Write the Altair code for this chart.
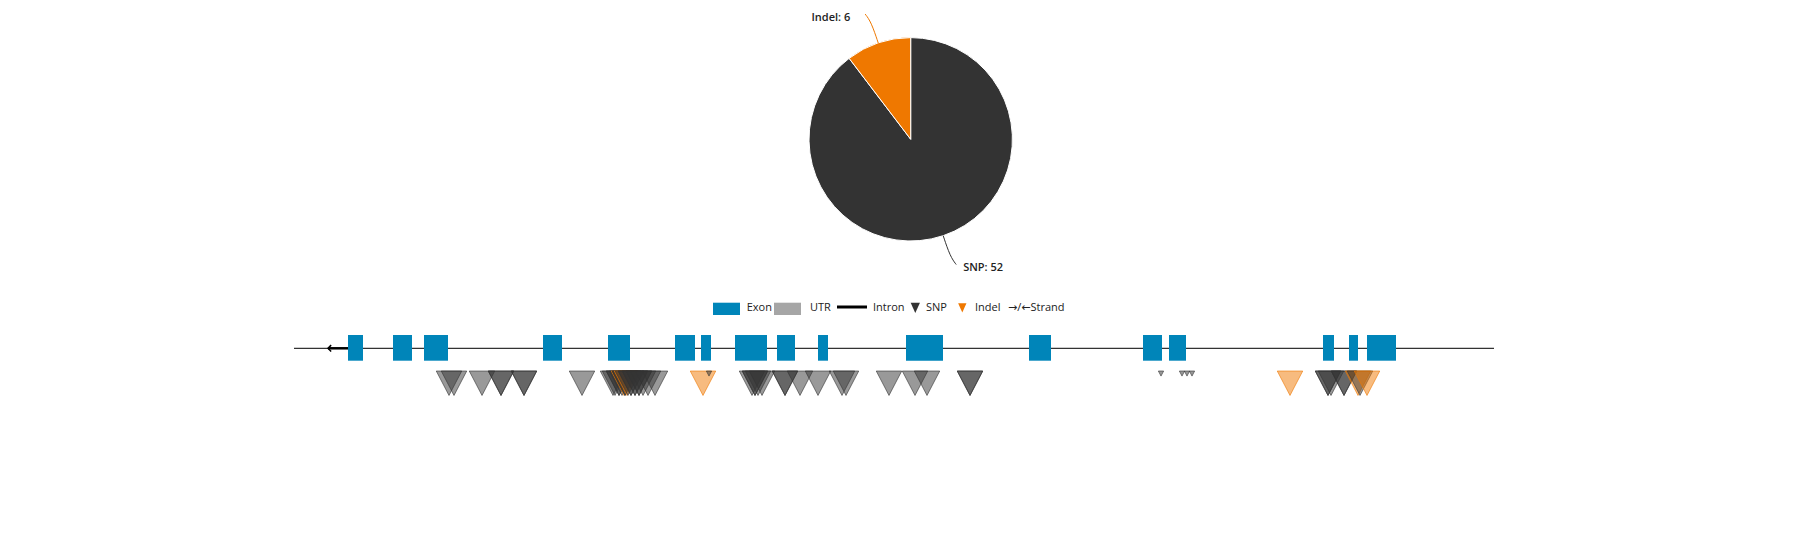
import math
import altair as alt
import pandas as pd

# ---------------- data ----------------
gene_start = 0
gene_end = 1200
strand_from = 54      # transcription start side (minus strand, arrow points left)
strand_to = 34

exon_start = [54, 99, 130, 249, 314, 381, 407, 441, 483, 524, 612, 735, 849, 875, 1029, 1055, 1073]
exon_end = [69, 118, 154, 268, 336, 401, 417, 473, 501, 534, 649, 757, 868, 892, 1040, 1064, 1102]

snp_large = [155, 160, 188, 207, 207, 230, 230, 288,
             319, 321, 325, 325, 328, 331, 331, 334, 337, 337, 341, 341, 345, 345, 349, 354, 361,
             458, 461, 461, 464, 468, 491, 491, 506, 524,
             548, 552, 595, 621, 633, 676, 676,
             1034, 1034, 1037, 1050, 1050, 1066]
snp_small = [415, 867, 888, 893, 898]
indel_pos = [330, 333, 409, 996, 1064, 1073]

pie_types = ["SNP", "Indel"]
pie_counts = [52, 6]

# ---------------- style ----------------
EXON_C = "#0085b9"
UTR_C = "#a6a6a6"
SNP_C = "#333333"
INDEL_C = "#ef7800"
FONT = "Open Sans, DejaVu Sans"

cscale = alt.Scale(domain=pie_types, range=[SNP_C, INDEL_C])
xscale = alt.Scale(domain=[gene_start, gene_end], range=[286, 1486])

# ---------------- tables ----------------
gene_df = pd.DataFrame({"start": [gene_start], "end": [gene_end],
                        "tss": [strand_from], "arrow": [strand_to]})
exon_df = pd.DataFrame({"start": exon_start, "end": exon_end})

var_rows = ([{"pos": p, "type": "SNP", "marker": "large"} for p in snp_large]
            + [{"pos": p, "type": "SNP", "marker": "small"} for p in snp_small]
            + [{"pos": p, "type": "Indel", "marker": "large"} for p in indel_pos])
var_df = pd.DataFrame(var_rows).sort_values("pos", kind="stable").reset_index(drop=True)
var_df["idx"] = range(len(var_df))

pie_df = pd.DataFrame({"type": pie_types, "count": pie_counts, "ord": [0, 1]})

# pie geometry (layout)
CX, CY, R = 902.7, 131.3, 101.7
total = sum(pie_counts)
line_rows, lab_rows = [], []
cum = 0
for t, c in zip(pie_types, pie_counts):
    a0 = cum / total * 2 * math.pi
    cum += c
    a1 = cum / total * 2 * math.pi
    m = (a0 + a1) / 2
    s, co = math.sin(m), -math.cos(m)
    sx = 1 if s >= 0 else -1
    sy = 1 if co >= 0 else -1
    p0 = (CX + R * s, CY + R * co)
    p1 = (CX + (R + 22) * s, CY + (R + 22) * co)
    p2 = (p1[0] + sx * 6, p1[1] + sy * 8)
    for i, p in enumerate([p0, p1, p2]):
        line_rows.append({"type": t, "step": i, "px": p[0], "py": p[1]})
    gap = 15 if sx < 0 else 7
    lab_rows.append({"type": t, "label": f"{t}: {c}", "side": "left" if sx < 0 else "right",
                     "lx": p2[0] + sx * gap, "ly": p2[1] + 6.5})
line_df = pd.DataFrame(line_rows)
lab_df = pd.DataFrame(lab_rows)

one = pd.DataFrame({"k": [0]})

# ---------------- gene track ----------------
intron = alt.Chart(gene_df).mark_rule(color="#333333", strokeWidth=1.2).encode(
    x=alt.X("start:Q", scale=xscale, axis=None), x2="end:Q", y=alt.value(340.3))

strand = alt.Chart(gene_df).mark_rule(color="#000000", strokeWidth=2.5).encode(
    x=alt.X("arrow:Q", scale=xscale, axis=None), x2="tss:Q", y=alt.value(340.3))

arrowhead = alt.Chart(gene_df).mark_point(
    shape="M1,-1L0,0L1,1", filled=False, color="#000000", strokeWidth=1.5, size=40, opacity=1
).encode(x=alt.X("arrow:Q", scale=xscale, axis=None), y=alt.value(340.3))

exons = alt.Chart(exon_df).mark_rect(color=EXON_C).encode(
    x=alt.X("start:Q", scale=xscale, axis=None), x2="end:Q",
    y=alt.value(327), y2=alt.value(352.7))

variants = alt.Chart(var_df).mark_point(
    shape="M-1,0L1,0L0,1.92Z", filled=True, fillOpacity=0.5, strokeOpacity=0.6,
    strokeWidth=1, opacity=1
).encode(
    x=alt.X("pos:Q", scale=xscale, axis=None),
    y=alt.value(363),
    color=alt.Color("type:N", scale=cscale, legend=None),
    stroke=alt.Stroke("type:N", scale=cscale, legend=None),
    size=alt.Size("marker:N", scale=alt.Scale(domain=["large", "small"], range=[650, 28]), legend=None),
    order=alt.Order("idx:Q"),
)

# ---------------- pie ----------------
pie = alt.Chart(pie_df).mark_arc(radius=R, stroke="white", strokeWidth=1).encode(
    theta=alt.Theta("count:Q"),
    color=alt.Color("type:N", scale=cscale, legend=None),
    order=alt.Order("ord:Q"),
    x=alt.value(CX), y=alt.value(CY),
)

leaders = alt.Chart(line_df).mark_line(interpolate="basis", strokeWidth=1).encode(
    x=alt.X("px:Q", scale=None, axis=None),
    y=alt.Y("py:Q", scale=None, axis=None),
    color=alt.Color("type:N", scale=cscale, legend=None),
    order="step:Q",
)

lab_left = alt.Chart(lab_df).transform_filter(alt.datum.side == "left").mark_text(
    align="right", baseline="alphabetic", font=FONT, fontSize=11, fontWeight=600, color="#222222"
).encode(x=alt.X("lx:Q", scale=None, axis=None), y=alt.Y("ly:Q", scale=None, axis=None), text="label:N")

lab_right = alt.Chart(lab_df).transform_filter(alt.datum.side == "right").mark_text(
    align="left", baseline="alphabetic", font=FONT, fontSize=11, fontWeight=600, color="#222222"
).encode(x=alt.X("lx:Q", scale=None, axis=None), y=alt.Y("ly:Q", scale=None, axis=None), text="label:N")

# ---------------- custom legend ----------------
leg = []
leg.append(alt.Chart(one).mark_rect(color=EXON_C).encode(
    x=alt.value(705), x2=alt.value(732), y=alt.value(294.7), y2=alt.value(307)))
leg.append(alt.Chart(one).mark_rect(color=UTR_C).encode(
    x=alt.value(766), x2=alt.value(793), y=alt.value(294.7), y2=alt.value(307)))
leg.append(alt.Chart(one).mark_rule(color="#000000", strokeWidth=3).encode(
    x=alt.value(829), x2=alt.value(859), y=alt.value(299)))
leg.append(alt.Chart(one).mark_point(shape="M-1,0L1,0L0,2.2Z", filled=True, color=SNP_C,
                                     opacity=1, size=86).encode(x=alt.value(907.3), y=alt.value(294.7)))
leg.append(alt.Chart(one).mark_point(shape="M-1,0L1,0L0,2.2Z", filled=True, color=INDEL_C,
                                     opacity=1, size=69).encode(x=alt.value(954.3), y=alt.value(295.3)))
legend_labels = [("Exon", 738.7), ("UTR", 802), ("Intron", 865), ("SNP", 918), ("Indel", 967),
                 ("\u2192/\u2190Strand", 1000)]
for txt, xv in legend_labels:
    leg.append(alt.Chart(pd.DataFrame({"t": [txt]})).mark_text(
        align="left", baseline="alphabetic", font=FONT, fontSize=11, color="#222222"
    ).encode(x=alt.value(xv), y=alt.value(303), text="t:N"))

chart = alt.layer(
    intron, strand, arrowhead, exons, variants, pie, leaders, lab_left, lab_right, *leg
).resolve_scale(x="independent", y="independent").properties(
    width=1790, height=529, padding=0, background="white",
    autosize=alt.AutoSizeParams(type="fit", contains="padding"),
).configure_view(stroke=None)

chart.save("out.html", embed_options={"renderer": "svg", "actions": False})
